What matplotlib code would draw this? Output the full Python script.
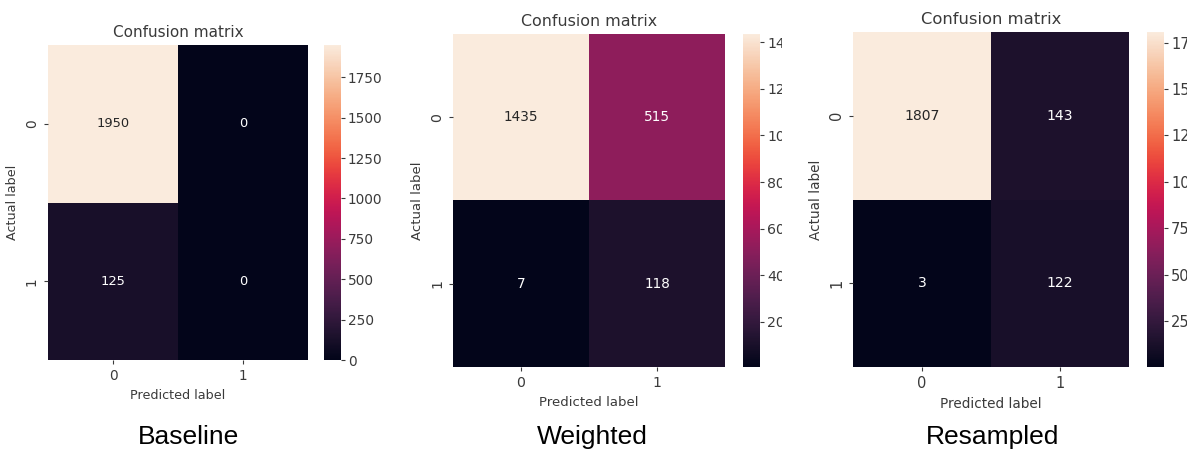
import numpy as np
import matplotlib
matplotlib.use('Agg')
import matplotlib.pyplot as plt
import matplotlib.patches as mpatches
import seaborn as sns

# Data: confusion matrices (rows = actual, cols = predicted)
names = ['Baseline', 'Weighted', 'Resampled']
cm_baseline = [[1950, 0], [125, 0]]
cm_weighted = [[1435, 515], [7, 118]]
cm_resampled = [[1807, 143], [3, 122]]
class_labels = ['0', '1']
cbar_ticks_baseline = [0, 250, 500, 750, 1000, 1250, 1500, 1750]
cbar_ticks_weighted = [200, 400, 600, 800, 1000, 1200, 1400]
cbar_ticks_resampled = [250, 500, 750, 1000, 1250, 1500, 1750]

W, H = 1187, 451
fig = plt.figure(figsize=(W / 100, H / 100), dpi=100)

def px(x0, y0, x1, y1):
    return [x0 / W, 1 - y1 / H, (x1 - x0) / W, (y1 - y0) / H]

# pixel boxes of heatmap, colorbar, caption centre, text scale
layout = [
    dict(heat=(48, 45, 308, 360), cbar=(324, 45, 341, 360), cap=(189, 437), s=1.0),
    dict(heat=(453, 34, 725, 367), cbar=(743, 34, 760, 367), cap=(592, 437), s=1.04),
    dict(heat=(853, 32, 1129, 367), cbar=(1147, 32, 1164, 367), cap=(993, 437), s=1.07),
]
mats = [cm_baseline, cm_weighted, cm_resampled]
ticks = [cbar_ticks_baseline, cbar_ticks_weighted, cbar_ticks_resampled]
txt = '#3a3a3a'
cmap = sns.color_palette('rocket', as_cmap=True)

for name, cm, tk, lay in zip(names, mats, ticks, layout):
    s = lay['s']
    ax = fig.add_axes(px(*lay['heat']))
    cax = fig.add_axes(px(*lay['cbar']))
    sns.heatmap(np.array(cm), annot=True, fmt='d', cmap=cmap, ax=ax, cbar_ax=cax,
                xticklabels=class_labels, yticklabels=class_labels,
                annot_kws={'fontsize': 9.4 * s})
    ax.set_title('Confusion matrix', fontsize=11 * s, color=txt)
    ax.set_xlabel('Predicted label', fontsize=9.2 * s, color=txt)
    ax.set_ylabel('Actual label', fontsize=9.2 * s, color=txt)
    ax.tick_params(labelsize=9.8 * s, colors=txt, length=3)
    plt.setp(ax.get_yticklabels(), rotation=90, va='center')
    cax.set_yticks(tk)
    cax.tick_params(labelsize=9.8 * s, colors=txt, length=3, pad=2)
    fig.text(lay['cap'][0] / W, 1 - lay['cap'][1] / H, name, fontsize=19,
             family='Liberation Sans', ha='center', va='center', color='black')

# the original screenshot crops the colorbar labels of the middle panel
fig.add_artist(mpatches.Rectangle((782 / W, 0.1), 26 / W, 0.9, transform=fig.transFigure,
                                  facecolor='white', edgecolor='none', zorder=50))

fig.savefig('out.png', dpi=100)
